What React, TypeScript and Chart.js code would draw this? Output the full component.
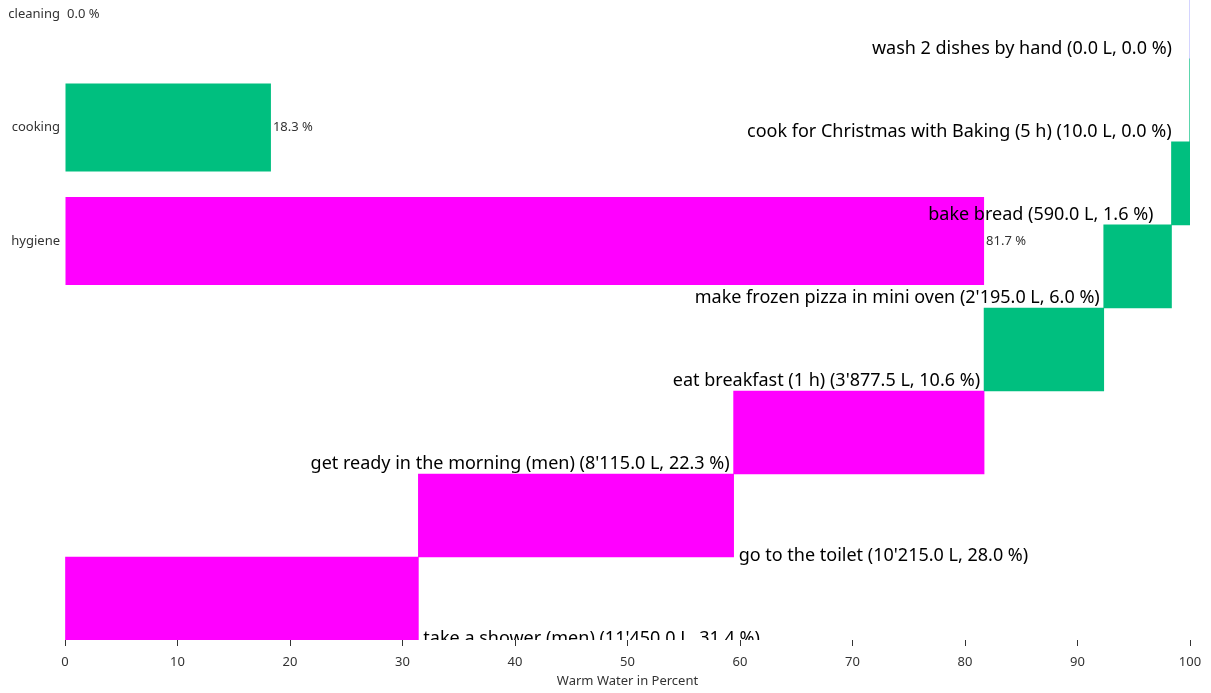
import React, { useEffect, useRef } from 'react';
import { Chart, registerables } from 'chart.js';

Chart.register(...registerables);

// ---- data ----
const activities = [
  'take a shower (men)',
  'go to the toilet',
  'get ready in the morning (men)',
  'eat breakfast (1 h)',
  'make frozen pizza in mini oven',
  'bake bread',
  'cook for Christmas with Baking (5 h)',
  'wash 2 dishes by hand',
];
const activityLiters = [11450, 10215, 8115, 3877.5, 2195, 590, 10, 0];
const activityGroups = ['hygiene', 'hygiene', 'hygiene', 'cooking', 'cooking', 'cooking', 'cooking', 'cleaning'];
const groups = ['cleaning', 'cooking', 'hygiene'];
const groupColors = ['#7F7FFF', '#00BF7F', '#FF00FF'];
const xTickValues = [0, 10, 20, 30, 40, 50, 60, 70, 80, 90, 100];
const xTitle = 'Warm Water in Percent';

// ---- derived ----
const totalLiters = activityLiters.reduce((a, b) => a + b, 0);
const activityPct = activityLiters.map((l) => (l / totalLiters) * 100);
const activityStarts: number[] = [];
{
  let acc = 0;
  activityPct.forEach((p) => {
    activityStarts.push(acc);
    acc += p;
  });
}
const groupPct = groups.map((g) =>
  activityPct.filter((_, i) => activityGroups[i] === g).reduce((a, b) => a + b, 0)
);

function fmtLiters(v: number): string {
  const [int, dec] = v.toFixed(1).split('.');
  return int.replace(/\B(?=(\d{3})+(?!\d))/g, "'") + '.' + dec;
}

const FONT = '"Noto Sans", "Open Sans", sans-serif';

const labelPlugin = {
  id: 'barLabels',
  afterDatasetsDraw(chart: any) {
    const ctx = chart.ctx as CanvasRenderingContext2D;
    const area = chart.chartArea;
    ctx.save();
    ctx.beginPath();
    ctx.rect(area.left, area.top, area.right - area.left, area.bottom - area.top);
    ctx.clip();

    // activity labels
    const m0 = chart.getDatasetMeta(0);
    ctx.font = `18px ${FONT}`;
    ctx.fillStyle = '#000';
    ctx.textBaseline = 'alphabetic';
    m0.data.forEach((bar: any, i: number) => {
      const { x, y, base, height } = bar.getProps(['x', 'y', 'base', 'height'], true);
      const start = Math.min(x, base);
      const end = Math.max(x, base);
      const bottom = y + height / 2;
      const text = `${activities[i]} (${fmtLiters(activityLiters[i])} L, ${activityPct[i].toFixed(1)} %)`;
      if (activityStarts[i] < 50) {
        ctx.textAlign = 'left';
        ctx.fillText(text, end + 5, bottom + 4);
      } else {
        ctx.textAlign = 'right';
        const off = end - start < 20 ? 18 : 4;
        ctx.fillText(text, start - off, bottom - 5);
      }
    });

    // group labels
    const m1 = chart.getDatasetMeta(1);
    ctx.font = `13px ${FONT}`;
    ctx.fillStyle = '#333';
    ctx.textBaseline = 'middle';
    ctx.textAlign = 'left';
    m1.data.forEach((bar: any, i: number) => {
      const { x, y, base } = bar.getProps(['x', 'y', 'base'], true);
      const end = Math.max(x, base);
      ctx.fillText(`${groupPct[i].toFixed(1)} %`, end + 2, y);
    });
    ctx.restore();
  },
};

export default function App() {
  const canvasRef = useRef<HTMLCanvasElement | null>(null);

  useEffect(() => {
    document.body.style.margin = '0';
    const canvas = canvasRef.current;
    if (!canvas) return;
    const chart = new Chart(canvas, {
      type: 'bar',
      data: {
        datasets: [
          {
            label: 'activities',
            yAxisID: 'y',
            data: activityPct.map((p, i) => ({ y: i, x: [activityStarts[i], activityStarts[i] + p] })) as any,
            backgroundColor: activityGroups.map((g) => groupColors[groups.indexOf(g)]),
            borderWidth: 0,
            barPercentage: 1,
            categoryPercentage: 1,
            grouped: false,
          } as any,
          {
            label: 'groups',
            yAxisID: 'yc',
            data: groupPct.map((p, i) => ({ y: i, x: [0, p] })) as any,
            backgroundColor: groupColors,
            borderWidth: 0,
            barPercentage: 0.775,
            categoryPercentage: 1,
            grouped: false,
          } as any,
        ],
      },
      options: {
        indexAxis: 'y',
        animation: false,
        responsive: false,
        maintainAspectRatio: false,
        layout: { padding: { top: 0, right: 21, left: 0, bottom: 0 } },
        plugins: {
          legend: { display: false },
          tooltip: { enabled: false },
        },
        scales: {
          x: {
            type: 'linear',
            position: 'bottom',
            min: 0,
            max: 100,
            offset: false,
            afterBuildTicks: (scale: any) => {
              scale.ticks = xTickValues.map((v) => ({ value: v }));
            },
            afterFit: (scale: any) => {
              scale.height = 53;
            },
            ticks: {
              font: { family: FONT, size: 13 },
              color: '#333',
              padding: 8,
              maxRotation: 0,
            },
            grid: {
              display: true,
              drawOnChartArea: false,
              drawTicks: true,
              tickLength: 6,
              color: '#333',
              offset: false,
            },
            border: { display: false },
            title: {
              display: true,
              text: xTitle,
              font: { family: FONT, size: 13 },
              color: '#333',
              padding: { top: 2, bottom: 4 },
            },
          },
          y: {
            type: 'linear',
            display: false,
            offset: false,
            min: -0.5,
            max: 7.21,
            grid: { offset: false },
            afterBuildTicks: (scale: any) => {
              scale.ticks = activities.map((_, i) => ({ value: i }));
            },
          },
          yc: {
            type: 'linear',
            position: 'left',
            reverse: true,
            offset: false,
            min: -0.123,
            max: 5.515,
            afterBuildTicks: (scale: any) => {
              scale.ticks = groups.map((_, i) => ({ value: i }));
            },
            afterFit: (scale: any) => {
              scale.width = 65;
              scale.paddingTop = 0;
              scale.paddingBottom = 0;
            },
            ticks: {
              font: { family: FONT, size: 13 },
              color: '#333',
              padding: 5,
              callback: (v: any) => groups[Number(v)] ?? '',
            },
            grid: { display: false, drawTicks: false, offset: false },
            border: { display: false },
          },
        } as any,
      },
      plugins: [labelPlugin],
    });
    return () => chart.destroy();
  }, []);

  return (
    <div style={{ width: 1211, height: 693 }}>
      <canvas ref={canvasRef} width={1211} height={693} style={{ display: 'block' }} />
    </div>
  );
}
